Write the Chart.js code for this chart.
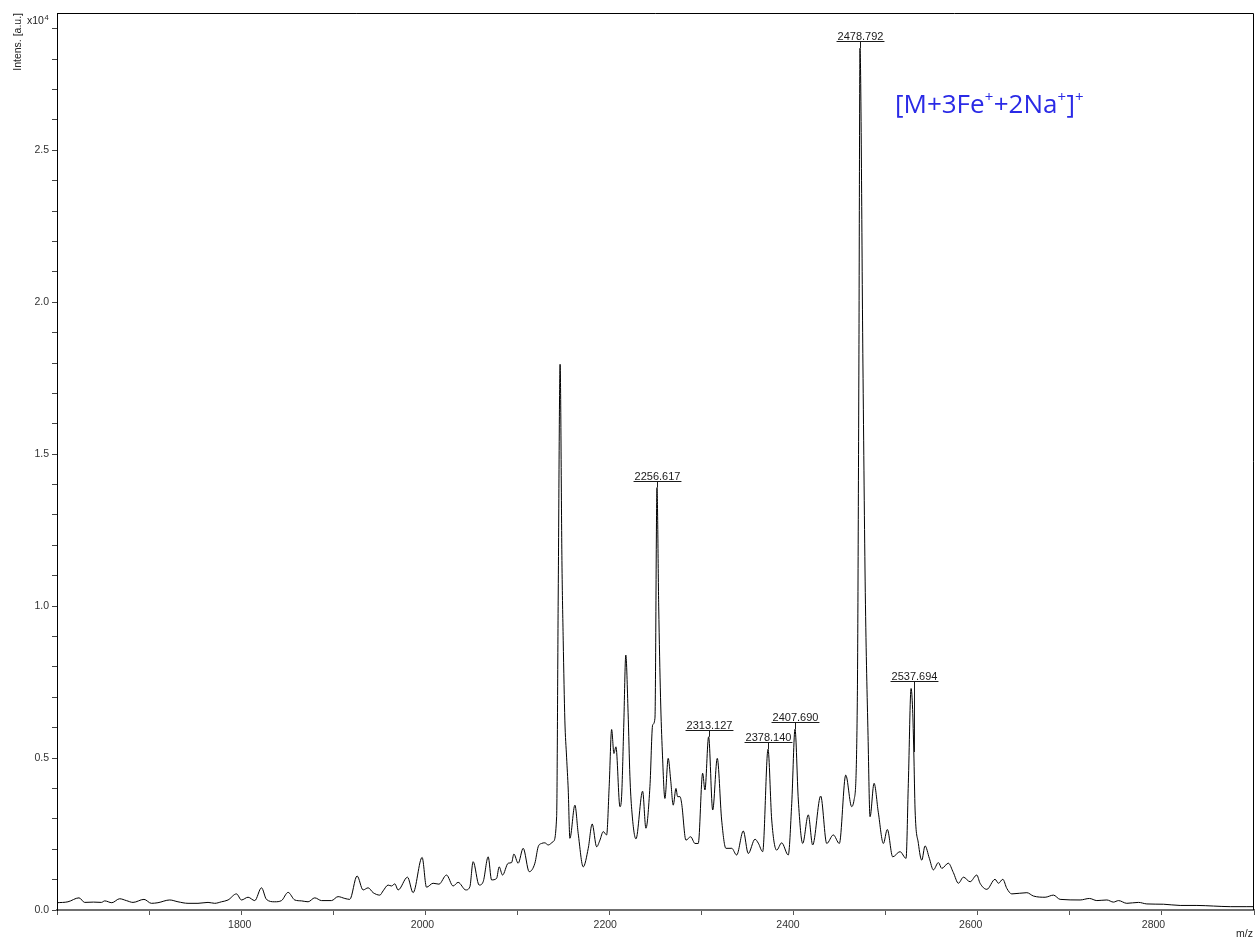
<!DOCTYPE html>
<html>
<head>
<meta charset="utf-8">
<script src="https://cdn.jsdelivr.net/npm/chart.js@4.4.1/dist/chart.umd.min.js"></script>
<style>
  html, body { margin: 0; padding: 0; background: #fff; }
  canvas { display: block; }
</style>
</head>
<body>
<canvas id="spectrum" width="1256" height="942"></canvas>
<script>
// MALDI-TOF spectrum: m/z and intensity (x10^4 a.u.)
const mz = [
  1600.0, 1612.0, 1624.1, 1630.3, 1640.0, 1648.6, 1652.2, 1660.0, 1668.6, 1675.9,
  1683.2, 1695.2, 1703.3, 1710.5, 1723.4, 1732.4, 1743.4, 1754.3, 1765.3, 1772.6,
  1780.0, 1787.2, 1796.4, 1801.9, 1809.1, 1816.4, 1823.8, 1829.2, 1838.3, 1845.7,
  1852.9, 1860.2, 1867.6, 1874.8, 1882.1, 1889.5, 1900.4, 1907.6, 1915.0, 1920.4,
  1928.4, 1935.0, 1940.5, 1946.0, 1953.3, 1956.9, 1962.4, 1966.1, 1969.7, 1973.3,
  1983.6, 1989.7, 1999.6, 2004.4, 2011.6, 2018.0, 2026.3, 2033.5, 2039.0, 2047.4,
  2051.8, 2055.4, 2062.0, 2066.4, 2071.9, 2075.6, 2081.1, 2083.9, 2087.6, 2093.8,
  2097.5, 2100.0, 2104.7, 2110.2, 2116.8, 2123.0, 2126.6, 2130.3, 2133.9, 2137.6,
  2143.0, 2146.8, 2148.5, 2150.6, 2152.6, 2154.0, 2155.8, 2157.7, 2159.5, 2161.3,
  2166.8, 2170.4, 2175.9, 2181.4, 2185.7, 2190.6, 2194.2, 2197.8, 2201.5, 2204.3,
  2207.0, 2209.5, 2211.7, 2216.1, 2217.9, 2220.2, 2222.5, 2225.0, 2227.0, 2229.0,
  2233.6, 2240.9, 2244.5, 2248.9, 2251.9, 2254.4, 2256.617, 2258.5, 2260.5, 2262.5,
  2265.3, 2268.9, 2271.6, 2274.4, 2277.4, 2279.2, 2281.8, 2283.6, 2288.3, 2293.5,
  2298.2, 2301.8, 2306.6, 2309.1, 2313.127, 2317.6, 2322.6, 2327.4, 2332.1, 2338.4,
  2343.8, 2351.1, 2356.5, 2363.9, 2367.5, 2372.3, 2378.140, 2382.2, 2387.6, 2393.1,
  2400.3, 2404.1, 2407.690, 2411.3, 2416.1, 2422.2, 2427.0, 2435.8, 2442.4, 2449.6,
  2456.2, 2463.2, 2469.7, 2472.3, 2475.8, 2477.6, 2478.792, 2482.0, 2484.6, 2487.6,
  2489.8, 2494.2, 2498.9, 2504.4, 2508.7, 2514.6, 2522.6, 2529.2, 2531.7, 2534.7,
  2536.4, 2537.694, 2539.1, 2542.7, 2546.4, 2550.0, 2554.7, 2559.1, 2564.6, 2568.3,
  2575.5, 2581.0, 2586.5, 2592.0, 2599.3, 2606.6, 2610.2, 2617.6, 2626.6, 2630.3,
  2635.1, 2639.5, 2644.9, 2661.4, 2668.6, 2681.4, 2690.5, 2697.8, 2719.7, 2729.9,
  2738.0, 2749.0, 2756.2, 2761.7, 2770.8, 2783.6, 2792.7, 2810.9, 2829.2, 2847.5,
  2865.7, 2884.0, 2902.2, 2910.0
];
const intensity = [
  0.024, 0.027, 0.040, 0.025, 0.026, 0.025, 0.030, 0.024, 0.037, 0.031,
  0.025, 0.035, 0.022, 0.024, 0.033, 0.027, 0.022, 0.022, 0.025, 0.022,
  0.027, 0.033, 0.053, 0.033, 0.042, 0.031, 0.073, 0.035, 0.027, 0.031,
  0.058, 0.033, 0.030, 0.027, 0.040, 0.031, 0.031, 0.044, 0.038, 0.035,
  0.112, 0.066, 0.073, 0.057, 0.049, 0.063, 0.082, 0.079, 0.086, 0.066,
  0.108, 0.057, 0.173, 0.075, 0.088, 0.085, 0.115, 0.079, 0.091, 0.066,
  0.076, 0.159, 0.082, 0.093, 0.175, 0.099, 0.104, 0.142, 0.115, 0.154,
  0.156, 0.184, 0.154, 0.203, 0.126, 0.154, 0.208, 0.219, 0.221, 0.214,
  0.225, 0.307, 1.020, 1.796, 1.150, 0.888, 0.625, 0.503, 0.395, 0.236,
  0.345, 0.252, 0.142, 0.203, 0.283, 0.208, 0.230, 0.258, 0.247, 0.406,
  0.594, 0.515, 0.537, 0.340, 0.373, 0.600, 0.839, 0.650, 0.440, 0.330,
  0.234, 0.391, 0.269, 0.406, 0.609, 0.631, 1.390, 1.000, 0.700, 0.520,
  0.367, 0.499, 0.428, 0.345, 0.400, 0.373, 0.373, 0.351, 0.230, 0.241,
  0.219, 0.219, 0.450, 0.395, 0.570, 0.329, 0.499, 0.296, 0.203, 0.203,
  0.181, 0.260, 0.186, 0.233, 0.220, 0.192, 0.529, 0.296, 0.197, 0.221,
  0.181, 0.351, 0.595, 0.362, 0.219, 0.313, 0.214, 0.375, 0.219, 0.247,
  0.219, 0.444, 0.340, 0.362, 0.668, 1.800, 2.836, 1.800, 1.045, 0.574,
  0.307, 0.417, 0.320, 0.219, 0.265, 0.175, 0.192, 0.170, 0.417, 0.729,
  0.660, 0.520, 0.329, 0.219, 0.164, 0.211, 0.170, 0.132, 0.156, 0.137,
  0.154, 0.123, 0.088, 0.108, 0.093, 0.115, 0.088, 0.068, 0.101, 0.088,
  0.101, 0.071, 0.053, 0.057, 0.046, 0.042, 0.049, 0.035, 0.033, 0.038,
  0.031, 0.033, 0.026, 0.031, 0.022, 0.025, 0.020, 0.019, 0.015, 0.015,
  0.013, 0.011, 0.011, 0.011
];

// annotated peaks (m/z)
const labelMz = [2256.617, 2313.127, 2378.140, 2407.690, 2478.792, 2537.694];

// labelled axis ticks
const xTickLabels = [1800, 2000, 2200, 2400, 2600, 2800];
const yTickLabels = [0.0, 0.5, 1.0, 1.5, 2.0, 2.5];

const tickFont = { family: '"Liberation Sans", Arial, sans-serif', size: 10.5 };

// linear interpolation of the trace at a given m/z
function curveAt(m) {
  for (let i = 1; i < mz.length; i++) {
    if (mz[i] >= m) {
      const t = (m - mz[i - 1]) / (mz[i] - mz[i - 1]);
      return intensity[i - 1] + t * (intensity[i] - intensity[i - 1]);
    }
  }
  return intensity[intensity.length - 1];
}

const decorations = {
  id: 'decorations',
  afterDraw(chart) {
    const { ctx, chartArea: a, scales: { x, y } } = chart;
    ctx.save();

    // top and right frame
    ctx.strokeStyle = '#000';
    ctx.lineWidth = 1;
    ctx.beginPath();
    ctx.moveTo(a.left, a.top + 0.5);
    ctx.lineTo(a.right - 0.5, a.top + 0.5);
    ctx.lineTo(a.right - 0.5, a.bottom);
    ctx.stroke();

    // x tick labels at every other tick
    ctx.fillStyle = '#333';
    ctx.font = '10.5px "Liberation Sans", Arial, sans-serif';
    ctx.textAlign = 'center';
    ctx.textBaseline = 'alphabetic';
    xTickLabels.forEach((v) => {
      ctx.fillText(String(v), x.getPixelForValue(v), a.bottom + 18);
    });

    // y axis title, reading upwards from the top corner
    ctx.fillStyle = '#222';
    ctx.save();
    ctx.translate(18, 13);
    ctx.rotate(-Math.PI / 2);
    ctx.textAlign = 'right';
    ctx.textBaseline = 'middle';
    ctx.fillText('Intens. [a.u.]', 0, 0);
    ctx.restore();

    // exponent marker
    ctx.textAlign = 'left';
    ctx.textBaseline = 'alphabetic';
    ctx.fillText('x10', 27, 24);
    const w10 = ctx.measureText('x10').width;
    ctx.font = '7.5px "Liberation Sans", Arial, sans-serif';
    ctx.fillText('4', 27 + w10 + 0.5, 20);

    // x axis unit
    ctx.font = '10.5px "Liberation Sans", Arial, sans-serif';
    ctx.textAlign = 'right';
    ctx.fillText('m/z', 1253, 937);

    // peak labels with underline and stem
    ctx.font = '11px "Liberation Sans", Arial, sans-serif';
    ctx.textAlign = 'center';
    ctx.fillStyle = '#1a1a1a';
    ctx.strokeStyle = '#1a1a1a';
    labelMz.forEach((m) => {
      let apex = 0;
      mz.forEach((v, i) => { if (Math.abs(v - m) <= 4) apex = Math.max(apex, intensity[i]); });
      const px = Math.round(x.getPixelForValue(m)) + 0.5;
      const uy = Math.round(y.getPixelForValue(apex) - 7) + 0.5;
      const cy = y.getPixelForValue(curveAt(m));
      const text = m.toFixed(3);
      const tw = ctx.measureText(text).width;
      ctx.fillText(text, px, uy - 2);
      ctx.beginPath();
      ctx.moveTo(px - tw / 2 - 1, uy);
      ctx.lineTo(px + tw / 2 + 1, uy);
      ctx.moveTo(px, uy);
      ctx.lineTo(px, cy);
      ctx.stroke();
    });

    // ion assignment
    const parts = [
      ['[M+3Fe', false], ['+', true], ['+2Na', false], ['+', true], [']', false], ['+', true]
    ];
    const base = 113;
    let cx = 895;
    ctx.textAlign = 'left';
    ctx.fillStyle = '#2a2ae6';
    parts.forEach(([t, sup]) => {
      ctx.font = (sup ? '15px' : '26px') + ' "Open Sans", sans-serif';
      ctx.fillText(t, cx, sup ? base - 11 : base);
      cx += ctx.measureText(t).width + (sup ? 0.5 : 0);
    });

    ctx.restore();
  }
};

new Chart(document.getElementById('spectrum'), {
  type: 'scatter',
  data: {
    datasets: [{
      data: mz.map((m, i) => ({ x: m, y: intensity[i] })),
      showLine: true,
      borderColor: '#000',
      borderWidth: 1,
      pointRadius: 0,
      cubicInterpolationMode: 'monotone'
    }]
  },
  options: {
    responsive: false,
    animation: false,
    devicePixelRatio: 1,
    layout: { padding: { top: 13, right: 2, left: 0, bottom: 0 } },
    plugins: { legend: { display: false }, tooltip: { enabled: false } },
    scales: {
      x: {
        type: 'linear',
        min: 1600,
        max: 2910,
        afterFit: (s) => { s.height = 32; s.paddingLeft = 0; s.paddingRight = 0; },
        border: { display: true, color: '#707070', width: 2 },
        grid: { drawOnChartArea: false, drawTicks: true, tickLength: 5, tickColor: '#555' },
        ticks: {
          stepSize: 100,
          includeBounds: false,
          autoSkip: false,
          maxRotation: 0,
          callback: () => ''
        }
      },
      y: {
        min: 0,
        max: 2.952,
        afterFit: (s) => { s.width = 57; },
        border: { display: true, color: '#000', width: 1 },
        grid: { drawOnChartArea: false, drawTicks: true, tickLength: 5, tickColor: '#444' },
        ticks: {
          stepSize: 0.1,
          includeBounds: false,
          autoSkip: false,
          padding: 3,
          color: '#333',
          font: tickFont,
          callback: (v) => {
            const r = Math.round(v * 10) / 10;
            return yTickLabels.some((t) => Math.abs(t - r) < 1e-9) ? r.toFixed(1) : '';
          }
        }
      }
    }
  },
  plugins: [decorations]
});
</script>
</body>
</html>
